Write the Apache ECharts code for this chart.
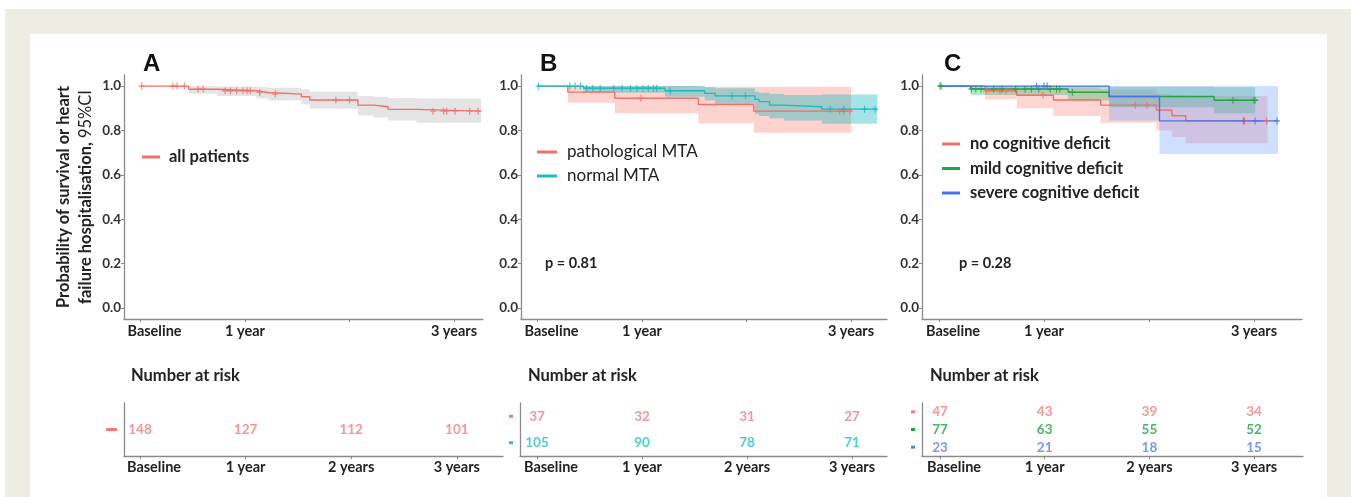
<!DOCTYPE html>
<html>
<head>
<meta charset="utf-8">
<script src="https://cdn.jsdelivr.net/npm/echarts@6/dist/echarts.min.js"></script>
<style>
html,body{margin:0;padding:0;background:#ffffff;}
#bg1{position:absolute;left:5px;top:9px;width:1346px;height:488px;background:#eeede3;}
#bg2{position:absolute;left:30px;top:34px;width:1297px;height:463px;background:#ffffff;}
#chart{position:absolute;left:0;top:0;width:1351px;height:497px;}
</style>
</head>
<body>
<div id="bg1"></div>
<div id="bg2"></div>
<div id="chart"></div>
<script>
// ---------- data ----------
const timeLabels = ['Baseline', '1 year', '2 years', '3 years'];
const tickYears = [0, 1, 2, 3];
const topLabelYears = [0, 1, 3];
const yTicks = [0, 0.2, 0.4, 0.6, 0.8, 1.0];

// Panel A: all patients
const allT  = [0, 0.46, 0.73, 1.11, 1.22, 1.54, 1.62, 2.08, 2.23, 2.37, 2.64, 3.26];
const allS  = [1, 0.986, 0.979, 0.971, 0.964, 0.952, 0.937, 0.914, 0.907, 0.895, 0.887, 0.887];
const allLo = [1, 0.966, 0.955, 0.945, 0.935, 0.918, 0.898, 0.868, 0.858, 0.845, 0.835, 0.835];
const allHi = [1, 1.0, 0.998, 0.996, 0.992, 0.985, 0.975, 0.955, 0.952, 0.946, 0.944, 0.944];
const allCens = [0.01, 0.31, 0.35, 0.42, 0.55, 0.60, 0.81, 0.86, 0.92, 0.98, 1.02, 1.05, 1.14, 1.29, 1.87, 2.0, 2.80, 2.90, 2.93, 3.01, 3.15, 3.23];

// Panel B: pathological MTA
const pathT  = [0, 0.29, 0.74, 1.54, 2.07, 3.0];
const pathS  = [1, 0.973, 0.945, 0.917, 0.887, 0.887];
const pathLo = [1, 0.925, 0.877, 0.832, 0.79, 0.79];
const pathHi = [1, 1, 1, 0.997, 0.997, 0.997];
const pathCens = [0.99, 2.89, 2.93, 2.99];
// Panel B: normal MTA
const normT  = [0, 0.44, 1.22, 1.60, 1.70, 2.08, 2.12, 2.22, 2.36, 2.72, 3.25];
const normS  = [1, 0.99, 0.979, 0.967, 0.956, 0.94, 0.93, 0.914, 0.907, 0.896, 0.896];
const normLo = [1, 0.97, 0.952, 0.935, 0.92, 0.875, 0.865, 0.855, 0.845, 0.83, 0.83];
const normHi = [1, 1, 1, 0.995, 0.99, 0.975, 0.97, 0.965, 0.96, 0.962, 0.962];
const normCens = [0.01, 0.31, 0.36, 0.41, 0.47, 0.53, 0.60, 0.73, 0.81, 0.89, 0.95, 1.01, 1.06, 1.11, 1.14, 1.27, 1.86, 1.99, 2.80, 2.93, 3.13, 3.23];

// Panel C: no cognitive deficit
const noT  = [0, 0.44, 0.74, 1.09, 1.54, 2.07, 2.22, 2.35, 3.13];
const noS  = [1, 0.979, 0.959, 0.937, 0.914, 0.892, 0.866, 0.843, 0.843];
const noLo = [1, 0.94, 0.90, 0.865, 0.835, 0.80, 0.77, 0.742, 0.742];
const noHi = [1, 1, 1, 0.995, 0.985, 0.965, 0.958, 0.955, 0.955];
const noCens = [0.45, 0.58, 0.64, 0.99, 1.87, 1.98, 2.91, 3.12];
// Panel C: mild cognitive deficit
const mildT  = [0, 0.30, 1.23, 1.62, 2.62, 3.01];
const mildS  = [1, 0.987, 0.972, 0.953, 0.936, 0.936];
const mildLo = [1, 0.96, 0.935, 0.905, 0.878, 0.878];
const mildHi = [1, 1, 1, 0.997, 0.995, 0.995];
const mildCens = [0.01, 0.02, 0.31, 0.35, 0.40, 0.52, 0.60, 0.73, 0.82, 0.88, 0.95, 1.06, 1.12, 1.15, 1.27, 2.80, 3.00, 3.01];
// Panel C: severe cognitive deficit
const sevT  = [0, 1.62, 2.10, 3.23];
const sevS  = [1, 0.953, 0.843, 0.843];
const sevLo = [1, 0.845, 0.694, 0.694];
const sevHi = [1, 1, 1, 1];
const sevCens = [0.93, 1.00, 1.03, 2.90, 3.01, 3.22];

// Number at risk
const riskAll  = [148, 127, 112, 101];
const riskPath = [37, 32, 31, 27];
const riskNorm = [105, 90, 78, 71];
const riskNo   = [47, 43, 39, 34];
const riskMild = [77, 63, 55, 52];
const riskSev  = [23, 21, 18, 15];

// ---------- layout / styles ----------
const FONT = 'Lato, "Open Sans", sans-serif';
const AXIS_C = '#8a8a8a';
const layout = [
  {left:124, top:75, width:359, height:244, base:140.5, k:104.5},
  {left:521, top:75, width:366, height:244, base:537.5, k:104.5},
  {left:922, top:75, width:380, height:244, base:939,   k:105},
  {left:124, top:403, width:379, height:53, base:140,   k:105.6},
  {left:520, top:403, width:367, height:53, base:537,   k:105},
  {left:922, top:403, width:381, height:53, base:940,   k:104.7}
];

const groups = [
  {name:'all patients', grid:0, T:allT, S:allS, Lo:allLo, Hi:allHi, C:allCens, line:'#F26F6A', band:'rgba(185,185,185,0.38)'},
  {name:'pathological MTA', grid:1, T:pathT, S:pathS, Lo:pathLo, Hi:pathHi, C:pathCens, line:'#F26F6A', band:'rgba(248,118,109,0.32)'},
  {name:'normal MTA', grid:1, T:normT, S:normS, Lo:normLo, Hi:normHi, C:normCens, line:'#19BDC2', band:'rgba(0,180,186,0.36)'},
  {name:'no cognitive deficit', grid:2, T:noT, S:noS, Lo:noLo, Hi:noHi, C:noCens, line:'#F26F6A', band:'rgba(248,118,109,0.30)'},
  {name:'mild cognitive deficit', grid:2, T:mildT, S:mildS, Lo:mildLo, Hi:mildHi, C:mildCens, line:'#1DA845', band:'rgba(20,170,80,0.30)'},
  {name:'severe cognitive deficit', grid:2, T:sevT, S:sevS, Lo:sevLo, Hi:sevHi, C:sevCens, line:'#4674EC', band:'rgba(97,150,255,0.30)'}
];

const riskTables = [
  {grid:3, rows:[{name:'all patients', n:riskAll, color:'#F47C7C', key:'dash'}]},
  {grid:4, rows:[{name:'pathological MTA', n:riskPath, color:'#F47C7C', key:'sq'},
                 {name:'normal MTA', n:riskNorm, color:'#26C2C4', key:'sq'}]},
  {grid:5, rows:[{name:'no cognitive deficit', n:riskNo, color:'#F47C7C', key:'sq'},
                 {name:'mild cognitive deficit', n:riskMild, color:'#1AA640', key:'sq'},
                 {name:'severe cognitive deficit', n:riskSev, color:'#5A7CF2', key:'sq'}]}
];

function stepValue(T, S, t) {
  let v = S[0];
  for (let i = 0; i < T.length; i++) { if (T[i] <= t + 1e-9) v = S[i]; }
  return v;
}
function fmtX(v) {
  const i = tickYears.indexOf(Math.round(v));
  const s = timeLabels[i];
  return i === 0 ? '{b|' + s + '}' : s;
}
const xLabelBase = {fontFamily:FONT, fontWeight:'bold', fontSize:14.5, color:'#222'};
const xRich = {b: Object.assign({padding:[0,0,0,28]}, xLabelBase)};

const grid = layout.map(l => ({left:l.left, top:l.top, width:l.width, height:l.height, containLabel:false}));

const xAxis = layout.map((l, i) => {
  const min = (l.left - l.base) / l.k;
  const max = min + l.width / l.k;
  return {
    type:'value', gridIndex:i, min:min, max:max,
    axisLine:{show:true, onZero:false, lineStyle:{color:AXIS_C, width:1.3}},
    axisTick:{show:true, customValues:tickYears, length:3, lineStyle:{color:AXIS_C}},
    axisLabel:Object.assign({customValues: i < 3 ? topLabelYears : tickYears, formatter:fmtX,
      margin: i < 3 ? 5 : 4, rich:xRich}, xLabelBase),
    splitLine:{show:false}
  };
});

const yAxis = [];
for (let i = 0; i < 3; i++) {
  const ax = {
    type:'value', gridIndex:i, min:-0.05, max:1.05,
    axisLine:{show:true, onZero:false, lineStyle:{color:AXIS_C, width:1.3}},
    axisTick:{show:true, customValues:yTicks, length:3, lineStyle:{color:AXIS_C}},
    axisLabel:{customValues:yTicks, formatter:v => v.toFixed(1), margin:3,
      fontFamily:FONT, fontWeight:'bold', fontSize:13.5, color:'#333'},
    splitLine:{show:false}
  };
  if (i === 0) {
    ax.name = '{b|Probability of survival or heart}\n{b|failure hospitalisation, }{n|95%CI}';
    ax.nameLocation = 'middle';
    ax.nameRotate = 90;
    ax.nameGap = 27;
    ax.nameTextStyle = {rich:{
      b:{fontFamily:FONT, fontWeight:'bold', fontSize:16.5, color:'#222', lineHeight:22},
      n:{fontFamily:FONT, fontWeight:'normal', fontSize:16.5, color:'#222', lineHeight:22}
    }};
  }
  yAxis.push(ax);
}
riskTables.forEach(rt => {
  const rich = {};
  rt.rows.forEach((r, j) => {
    rich['k' + j] = r.key === 'dash'
      ? {backgroundColor:r.color, width:11, height:3, fontSize:3, lineHeight:3}
      : {backgroundColor:r.color, width:4, height:3, fontSize:3, lineHeight:3};
  });
  yAxis.push({
    type:'category', gridIndex:rt.grid, inverse:true, data:rt.rows.map(r => r.name),
    axisLine:{show:true, onZero:false, lineStyle:{color:AXIS_C, width:1.3}},
    axisTick:{show:false},
    axisLabel:{margin:7, formatter:(v, idx) => '{k' + idx + '| }', rich:rich},
    splitLine:{show:false}
  });
});

const series = [];
// bands
groups.forEach(g => {
  const segs = [];
  for (let i = 0; i < g.T.length - 1; i++) {
    if (g.Hi[i] > g.Lo[i]) segs.push([g.T[i], g.T[i + 1], g.Lo[i], g.Hi[i]]);
  }
  series.push({
    type:'custom', name:g.name + ' CI', xAxisIndex:g.grid, yAxisIndex:g.grid, z:1, silent:true,
    encode:{x:[0, 1], y:[2, 3]}, data:segs, clip:true,
    renderItem:(params, api) => {
      const p0 = api.coord([api.value(0), api.value(3)]);
      const p1 = api.coord([api.value(1), api.value(2)]);
      return {type:'rect', shape:{x:p0[0], y:p0[1], width:p1[0] - p0[0], height:p1[1] - p0[1]},
              style:{fill:g.band}};
    }
  });
});
// step lines
groups.forEach(g => {
  series.push({
    type:'line', name:g.name, xAxisIndex:g.grid, yAxisIndex:g.grid, step:'end', z:3,
    showSymbol:false, symbol:'none', color:g.line,
    lineStyle:{color:g.line, width:1.4},
    data:g.T.map((t, i) => [t, g.S[i]]), silent:true
  });
});
// censor marks
groups.forEach(g => {
  series.push({
    type:'scatter', name:g.name + ' censored', xAxisIndex:g.grid, yAxisIndex:g.grid, z:4, silent:true,
    symbol:'path://M4,0H6V4H10V6H6V10H4V6H0V4H4Z', symbolSize:[6, 7],
    itemStyle:{color:g.line},
    data:g.C.map(t => [t, stepValue(g.T, g.S, t)])
  });
});
// risk table numbers
riskTables.forEach(rt => {
  rt.rows.forEach(r => {
    series.push({
      type:'scatter', name:r.name + ' at risk', xAxisIndex:rt.grid, yAxisIndex:rt.grid, silent:true,
      symbolSize:1, itemStyle:{color:'rgba(0,0,0,0)'},
      label:{show:true, position:'inside', formatter:p => String(p.value[2]),
        color:r.color, fontFamily:FONT, fontWeight:'bold', fontSize:13.5},
      data:tickYears.map((t, j) => [t, r.name, r.n[j]])
    });
  });
});

const legendBase = {orient:'vertical', icon:'rect', itemWidth:18, itemHeight:3, padding:0, selectedMode:false};
const legend = [
  Object.assign({}, legendBase, {data:['all patients'], left:142, top:148,
    textStyle:{fontFamily:FONT, fontWeight:'bold', fontSize:16.5, color:'#222', lineHeight:18, padding:[0,0,0,4]}}),
  Object.assign({}, legendBase, {data:['pathological MTA', 'normal MTA'], left:537, top:143, itemGap:6, itemWidth:20,
    textStyle:{fontFamily:FONT, fontWeight:'normal', fontSize:17, color:'#222', lineHeight:18, padding:[0,0,0,5]}}),
  Object.assign({}, legendBase, {data:['no cognitive deficit', 'mild cognitive deficit', 'severe cognitive deficit'],
    left:942, top:135, itemGap:6.5,
    textStyle:{fontFamily:FONT, fontWeight:'bold', fontSize:16.5, color:'#222', lineHeight:18, padding:[0,0,0,5]}})
];

const letterStyle = {fontFamily:'"Liberation Sans", Arial, sans-serif', fontWeight:'bold', fontSize:24, color:'#111'};
const riskTitleStyle = {fontFamily:FONT, fontWeight:'bold', fontSize:16.5, color:'#222'};
const pStyle = {fontFamily:FONT, fontWeight:'bold', fontSize:14.5, color:'#222'};
const title = [
  {text:'A', left:143, top:52, padding:0, textStyle:letterStyle},
  {text:'B', left:540, top:52, padding:0, textStyle:letterStyle},
  {text:'C', left:944, top:52, padding:0, textStyle:letterStyle},
  {text:'Number at risk', left:131, top:367, padding:0, textStyle:riskTitleStyle},
  {text:'Number at risk', left:528, top:367, padding:0, textStyle:riskTitleStyle},
  {text:'Number at risk', left:930, top:367, padding:0, textStyle:riskTitleStyle},
  {text:'p = 0.81', left:545, top:256, padding:0, textStyle:pStyle},
  {text:'p = 0.28', left:959, top:256, padding:0, textStyle:pStyle}
];

const chart = echarts.init(document.getElementById('chart'), null, {renderer:'canvas'});
chart.setOption({
  backgroundColor:'transparent',
  animation:false,
  title:title,
  legend:legend,
  grid:grid,
  xAxis:xAxis,
  yAxis:yAxis,
  series:series
});
</script>
</body>
</html>
